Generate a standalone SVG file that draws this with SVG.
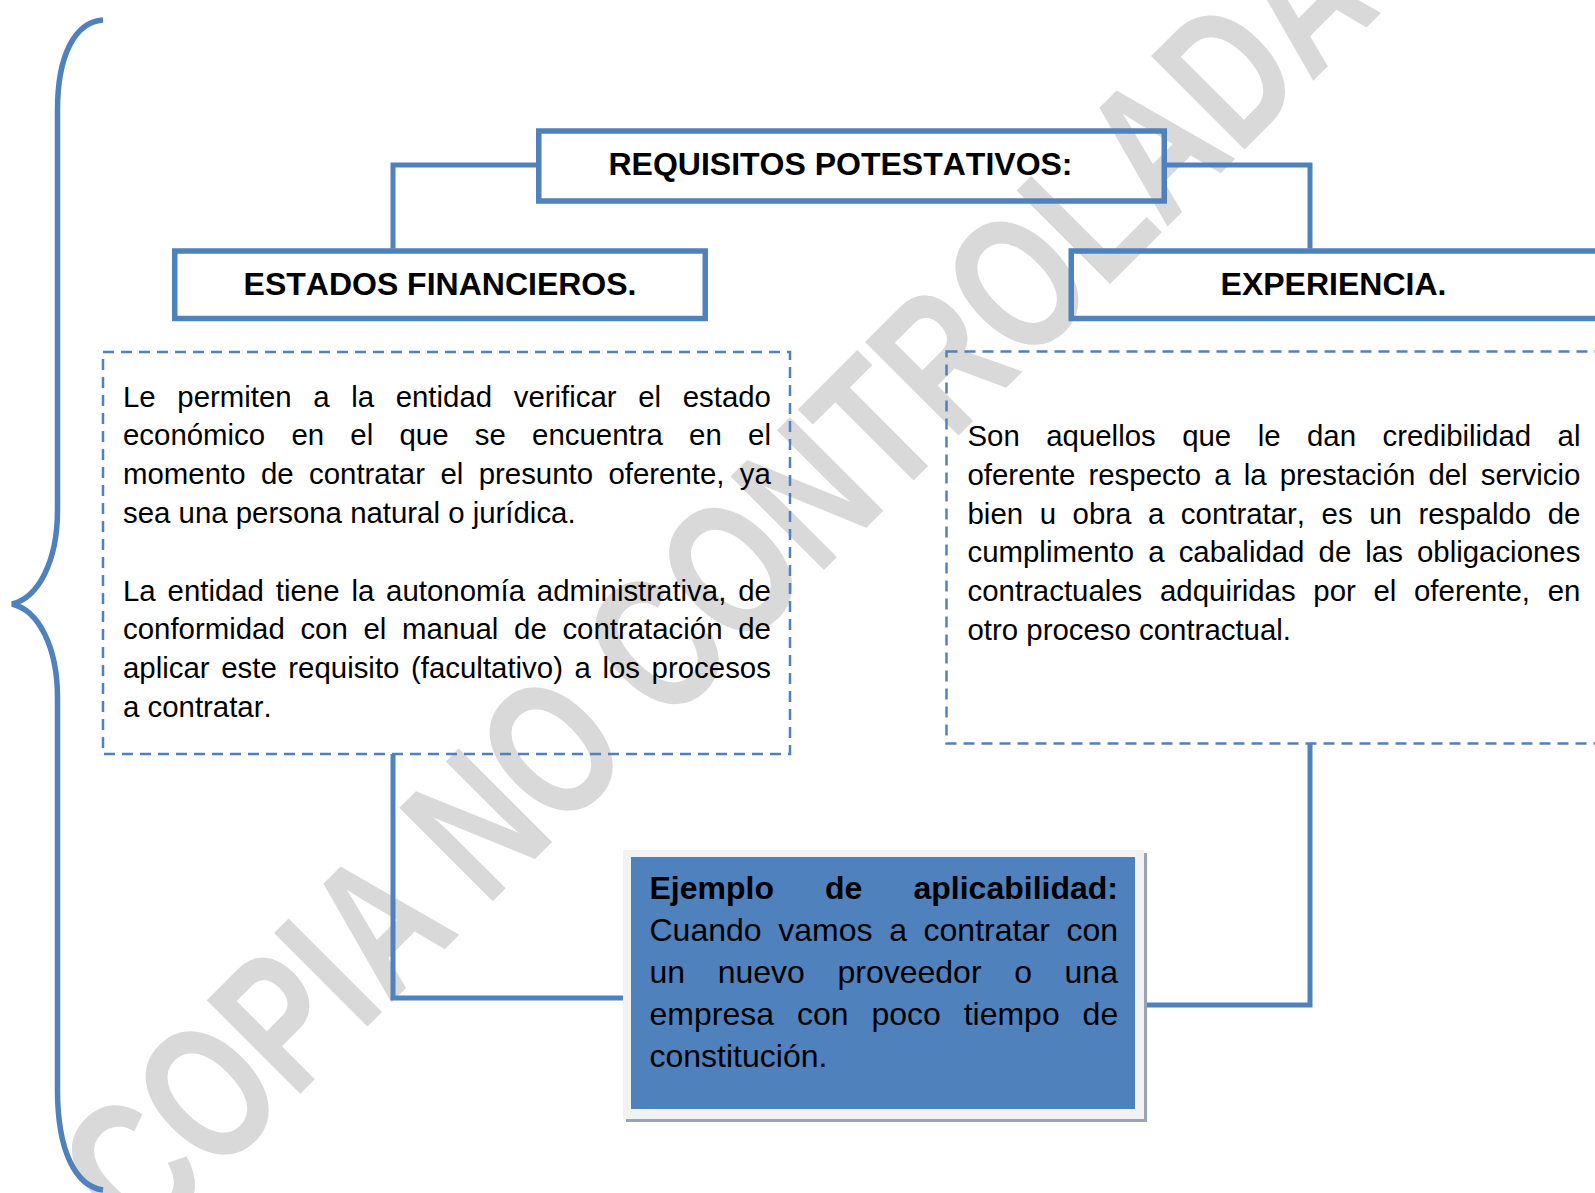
<svg xmlns="http://www.w3.org/2000/svg" width="1595" height="1193" viewBox="0 0 1595 1193">
<style>
.box{fill:none;stroke:#4f81bd;stroke-width:5.5}
.dash{fill:none;stroke:#4f81bd;stroke-width:2.5;stroke-dasharray:11 7}
.conn{fill:none;stroke:#4f81bd;stroke-width:5}
.title{font-family:"Liberation Sans",Arial,sans-serif;font-weight:bold;font-size:32px;text-anchor:middle;fill:#000;font-kerning:none}
.body{font-family:"Liberation Sans",Arial,sans-serif;font-size:29.4px;fill:#000;font-kerning:none}
.ej{font-family:"Liberation Sans",Arial,sans-serif;font-size:32px;fill:#000;font-kerning:none}
.wm{font-family:"Liberation Sans",Arial,sans-serif;font-weight:bold;font-size:160px;fill:#d9d9d9}
</style>
<rect width="1595" height="1193" fill="#fff"/>
<text class="wm" transform="translate(142,1252) rotate(-45) scale(1,1.2)" textLength="1756" lengthAdjust="spacingAndGlyphs">COPIA NO CONTROLADA</text>
<g id="brace">
<path d="M103 20 C75 22 57.5 55 57.5 110 L57.5 510 C57.5 562 38 598 12 604 C38 610 57.5 646 57.5 698 L57.5 1090 C57.5 1150 75 1186 103 1190" fill="none" stroke="#4f81bd" stroke-width="5.5"/>
</g>
<g id="connectors">
<path class="conn" d="M538.75 165 H393 V248.5"/>
<path class="conn" d="M1164 165 H1310 V248.5"/>
<path class="conn" d="M393 754 V998 H624"/>
<path class="conn" d="M1310 744 V1005 H1144"/>
</g>
<g id="requisitos">
<rect class="box" x="538.75" y="131" width="625.5" height="70"/>
<text class="title" x="840.5" y="175">REQUISITOS POTESTATIVOS:</text>
</g>
<g id="estados">
<rect class="box" x="174.75" y="251" width="530.5" height="67.5"/>
<text class="title" x="440" y="295">ESTADOS FINANCIEROS.</text>
</g>
<g id="experiencia">
<rect class="box" x="1071.25" y="251" width="540" height="67.5"/>
<text class="title" x="1333.5" y="295">EXPERIENCIA.</text>
</g>
<g id="estados-desc">
<rect class="dash" x="103" y="352" width="687" height="402"/>
<text class="body" x="123" y="406.5" word-spacing="13.44">Le permiten a la entidad verificar el estado</text>
<text class="body" x="123" y="445.3" word-spacing="18.1">económico en el que se encuentra en el</text>
<text class="body" x="123" y="484.1" word-spacing="7.23">momento de contratar el presunto oferente, ya</text>
<text class="body" x="123" y="522.9">sea una persona natural o jurídica.</text>
<text class="body" x="123" y="600.5" word-spacing="3.68">La entidad tiene la autonomía administrativa, de</text>
<text class="body" x="123" y="639.3" word-spacing="7.5">conformidad con el manual de contratación de</text>
<text class="body" x="123" y="678.1" word-spacing="3.43">aplicar este requisito (facultativo) a los procesos</text>
<text class="body" x="123" y="716.9">a contratar.</text>
</g>
<g id="experiencia-desc">
<rect class="dash" x="946.5" y="351.5" width="700" height="392"/>
<text class="body" x="967.5" y="446.3" word-spacing="18.28">Son aquellos que le dan credibilidad al</text>
<text class="body" x="967.5" y="485" word-spacing="4.94">oferente respecto a la prestación del servicio</text>
<text class="body" x="967.5" y="523.7" word-spacing="8.4">bien u obra a contratar, es un respaldo de</text>
<text class="body" x="967.5" y="562.4" word-spacing="5.92">cumplimento a cabalidad de las obligaciones</text>
<text class="body" x="967.5" y="601.1" word-spacing="9.52">contractuales adquiridas por el oferente, en</text>
<text class="body" x="967.5" y="639.8">otro proceso contractual.</text>
</g>
<g id="ejemplo">
<rect x="626" y="853" width="521" height="269" fill="#98a4b5"/>
<rect x="623" y="850" width="521" height="269" fill="#f2f2f2"/>
<rect x="631" y="857" width="504" height="252" fill="#4f81bd"/>
<text class="ej" x="649.5" y="898.5" font-weight="bold" word-spacing="42.2">Ejemplo de aplicabilidad:</text>
<text class="ej" x="649.5" y="940.7" word-spacing="7.75">Cuando vamos a contratar con</text>
<text class="ej" x="649.5" y="982.9" word-spacing="23.7">un nuevo proveedor o una</text>
<text class="ej" x="649.5" y="1025.1" word-spacing="14">empresa con poco tiempo de</text>
<text class="ej" x="649.5" y="1067.3">constitución.</text>
</g>
</svg>
